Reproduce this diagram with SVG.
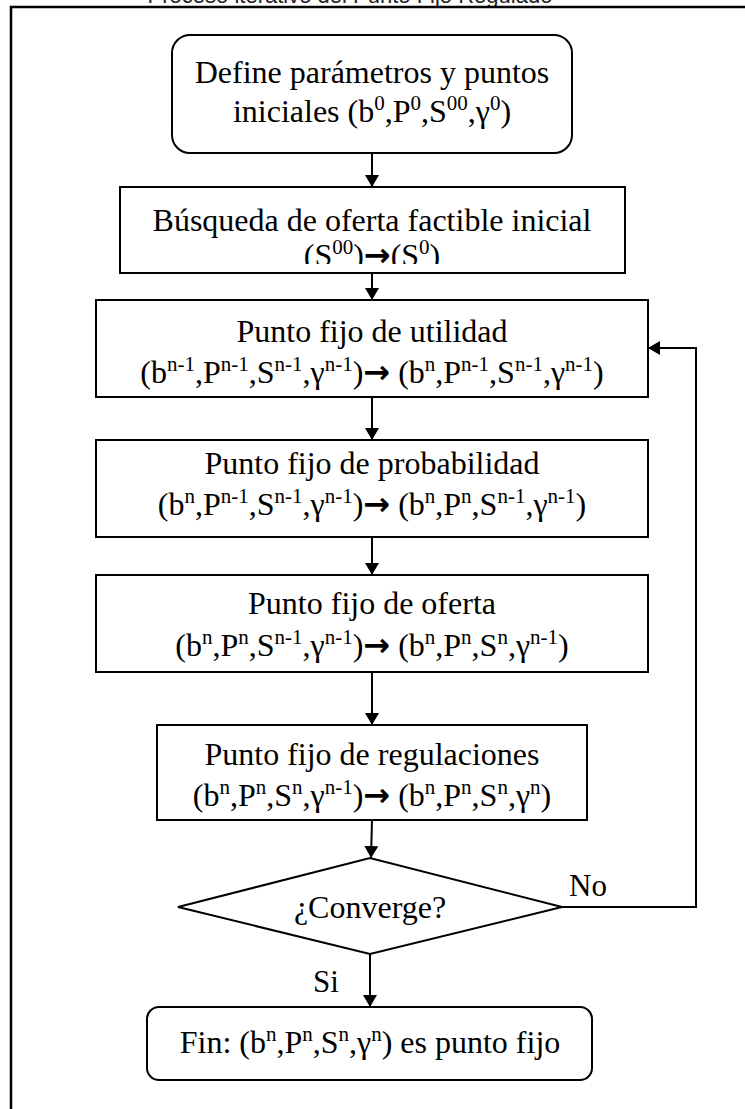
<svg xmlns="http://www.w3.org/2000/svg" width="745" height="1109" viewBox="0 0 745 1109">
  <defs>
    <style>
      .box { fill: #ffffff; stroke: #000000; stroke-width: 2; }
      .lbl { font-family: "Liberation Serif", "Times New Roman", serif; font-size: 32px; fill: #000000; text-anchor: middle; }
      .side { font-family: "Liberation Serif", "Times New Roman", serif; font-size: 31px; fill: #000000; }
      .sup { font-size: 21px; baseline-shift: 12px; }
      .arr { font-family: "DejaVu Sans", sans-serif; font-weight: bold; }
      .edge { fill: none; stroke: #000000; stroke-width: 2; }
      .title { font-family: "Liberation Sans", Arial, sans-serif; font-size: 22px; fill: #222222; text-anchor: middle; }
    </style>
    <marker id="head" viewBox="0 0 12 14" refX="12" refY="7" markerWidth="12" markerHeight="14" markerUnits="userSpaceOnUse" orient="auto">
      <path d="M0,0 L12,7 L0,14 Z" fill="#000000"/>
    </marker>
    <!-- the second line of the search box is cut by its text frame -->
    <clipPath id="box2clip">
      <rect x="120" y="187" width="505" height="77"/>
    </clipPath>
  </defs>

  <rect width="745" height="1109" fill="#ffffff"/>

  <!-- caption line above the frame, cut by the page edge -->
  <text class="title" x="350" y="3">Proceso iterativo del Punto Fijo Regulado</text>

  <!-- outer frame -->
  <rect x="11" y="7" width="760" height="1120" fill="none" stroke="#000000" stroke-width="2.5"/>

  <g id="connectors">
    <line class="edge" x1="372" y1="153" x2="372" y2="187" marker-end="url(#head)"/>
    <line class="edge" x1="372" y1="273" x2="372" y2="300" marker-end="url(#head)"/>
    <line class="edge" x1="372" y1="397" x2="372" y2="440" marker-end="url(#head)"/>
    <line class="edge" x1="372" y1="537" x2="372" y2="575" marker-end="url(#head)"/>
    <line class="edge" x1="372" y1="672" x2="372" y2="725" marker-end="url(#head)"/>
    <line class="edge" x1="372" y1="820" x2="371" y2="858" marker-end="url(#head)"/>
    <line class="edge" x1="370" y1="954" x2="370" y2="1007" marker-end="url(#head)"/>
    <polyline class="edge" points="562,907 696,907 696,348 648,348" marker-end="url(#head)"/>
    <text class="side" x="569" y="896">No</text>
    <text class="side" x="313" y="992">Si</text>
  </g>

  <g id="start">
    <rect class="box" x="172" y="35" width="400" height="118" rx="18"/>
    <text class="lbl" x="372" y="83">Define parámetros y puntos</text>
    <text class="lbl" x="372" y="122">iniciales (b<tspan class="sup">0</tspan>,P<tspan class="sup">0</tspan>,S<tspan class="sup">00</tspan>,γ<tspan class="sup">0</tspan>)</text>
  </g>

  <g id="initial-supply">
    <rect class="box" x="120" y="187" width="505" height="86"/>
    <g clip-path="url(#box2clip)">
      <text class="lbl" x="372" y="231">Búsqueda de oferta factible inicial</text>
      <text class="lbl" x="372" y="266">(S<tspan class="sup">00</tspan>)<tspan class="arr">→</tspan>(S<tspan class="sup">0</tspan>)</text>
    </g>
  </g>

  <g id="utility">
    <rect class="box" x="96" y="300" width="552" height="97"/>
    <text class="lbl" x="372" y="342">Punto fijo de utilidad</text>
    <text class="lbl" x="372" y="383">(b<tspan class="sup">n-1</tspan>,P<tspan class="sup">n-1</tspan>,S<tspan class="sup">n-1</tspan>,γ<tspan class="sup">n-1</tspan>)<tspan class="arr">→</tspan> (b<tspan class="sup">n</tspan>,P<tspan class="sup">n-1</tspan>,S<tspan class="sup">n-1</tspan>,γ<tspan class="sup">n-1</tspan>)</text>
  </g>

  <g id="probability">
    <rect class="box" x="96" y="440" width="552" height="97"/>
    <text class="lbl" x="372" y="474">Punto fijo de probabilidad</text>
    <text class="lbl" x="372" y="515">(b<tspan class="sup">n</tspan>,P<tspan class="sup">n-1</tspan>,S<tspan class="sup">n-1</tspan>,γ<tspan class="sup">n-1</tspan>)<tspan class="arr">→</tspan> (b<tspan class="sup">n</tspan>,P<tspan class="sup">n</tspan>,S<tspan class="sup">n-1</tspan>,γ<tspan class="sup">n-1</tspan>)</text>
  </g>

  <g id="supply">
    <rect class="box" x="96" y="575" width="552" height="97"/>
    <text class="lbl" x="372" y="614">Punto fijo de oferta</text>
    <text class="lbl" x="372" y="656">(b<tspan class="sup">n</tspan>,P<tspan class="sup">n</tspan>,S<tspan class="sup">n-1</tspan>,γ<tspan class="sup">n-1</tspan>)<tspan class="arr">→</tspan> (b<tspan class="sup">n</tspan>,P<tspan class="sup">n</tspan>,S<tspan class="sup">n</tspan>,γ<tspan class="sup">n-1</tspan>)</text>
  </g>

  <g id="regulations">
    <rect class="box" x="157" y="725" width="430" height="95"/>
    <text class="lbl" x="372" y="765">Punto fijo de regulaciones</text>
    <text class="lbl" x="372" y="806">(b<tspan class="sup">n</tspan>,P<tspan class="sup">n</tspan>,S<tspan class="sup">n</tspan>,γ<tspan class="sup">n-1</tspan>)<tspan class="arr">→</tspan> (b<tspan class="sup">n</tspan>,P<tspan class="sup">n</tspan>,S<tspan class="sup">n</tspan>,γ<tspan class="sup">n</tspan>)</text>
  </g>

  <g id="converge">
    <polygon class="box" points="178,907 370,858 562,907 370,954"/>
    <text class="lbl" x="370" y="918">¿Converge?</text>
  </g>

  <g id="end">
    <rect class="box" x="147" y="1007" width="445" height="73" rx="12"/>
    <text class="lbl" x="370" y="1053">Fin: (b<tspan class="sup">n</tspan>,P<tspan class="sup">n</tspan>,S<tspan class="sup">n</tspan>,γ<tspan class="sup">n</tspan>) es punto fijo</text>
  </g>
</svg>
